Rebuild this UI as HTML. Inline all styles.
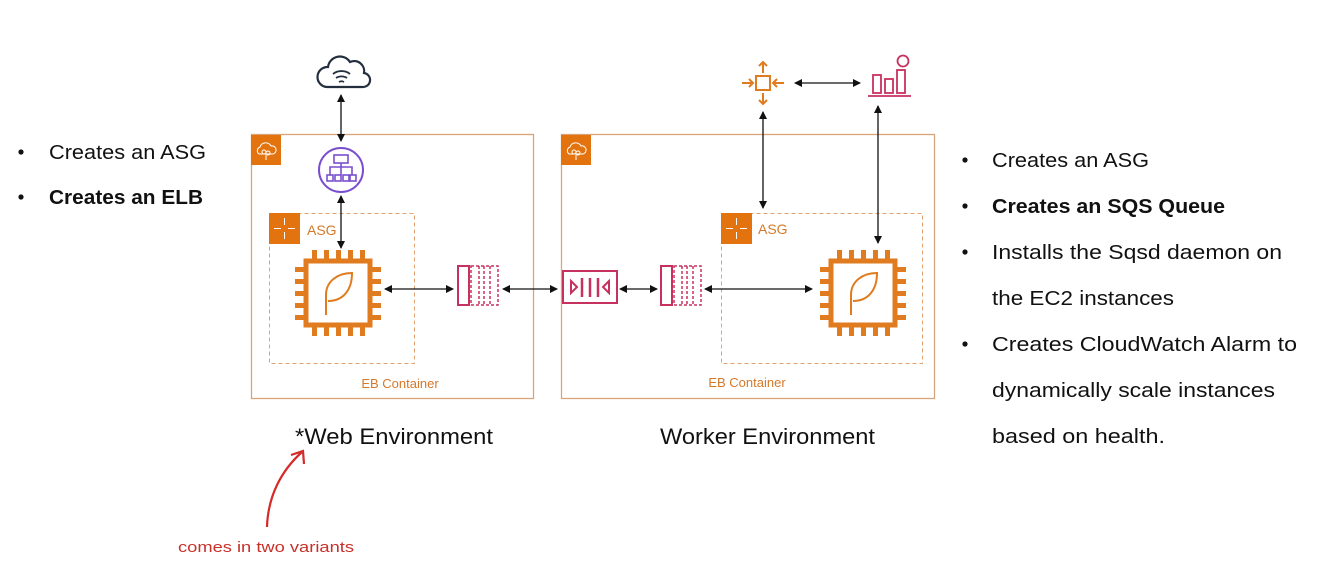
<!DOCTYPE html>
<html><head><meta charset="utf-8"><style>
html,body{margin:0;padding:0;background:#fff;}
svg{display:block;}
text{font-family:"Liberation Sans",sans-serif;}
</style></head><body>
<svg width="1323" height="577" viewBox="0 0 1323 577" xmlns="http://www.w3.org/2000/svg">
<defs>
<marker id="ah" markerWidth="8" markerHeight="8" refX="7" refY="4" orient="auto-start-reverse" markerUnits="userSpaceOnUse">
<path d="M0,0 L8,4 L0,8 z" fill="#111"/></marker>
<g id="chip">
<rect x="2" y="2" width="64" height="64" fill="#fff" stroke="#e07b1f" stroke-width="5"/>
<g fill="#e07b1f">
<rect x="8" y="-9" width="5" height="9"/><rect x="20" y="-9" width="5" height="9"/><rect x="32" y="-9" width="5" height="9"/><rect x="44" y="-9" width="5" height="9"/><rect x="56" y="-9" width="5" height="9"/>
<rect x="8" y="68" width="5" height="9"/><rect x="20" y="68" width="5" height="9"/><rect x="32" y="68" width="5" height="9"/><rect x="44" y="68" width="5" height="9"/><rect x="56" y="68" width="5" height="9"/>
<rect x="-9" y="8" width="9" height="5"/><rect x="-9" y="20" width="9" height="5"/><rect x="-9" y="32" width="9" height="5"/><rect x="-9" y="44" width="9" height="5"/><rect x="-9" y="56" width="9" height="5"/>
<rect x="68" y="8" width="9" height="5"/><rect x="68" y="20" width="9" height="5"/><rect x="68" y="32" width="9" height="5"/><rect x="68" y="44" width="9" height="5"/><rect x="68" y="56" width="9" height="5"/>
</g>
<path d="M22,56 L22,36 C22,22 34,14 48,14 C48,30 40,42 24,42" fill="none" stroke="#e07b1f" stroke-width="2"/>
</g>
<g id="ebicon">
<rect width="30" height="30" fill="#e3730f"/>
<path d="M8,19 a4,4 0 0 1 1,-7 a6,6 0 0 1 11,-1 a4,4 0 0 1 2,8 z" fill="none" stroke="#fff" stroke-width="1"/>
<circle cx="13" cy="17" r="2" fill="none" stroke="#fff" stroke-width="1"/><circle cx="17" cy="18" r="2" fill="none" stroke="#fff" stroke-width="1"/>
<line x1="15" y1="20" x2="15" y2="25" stroke="#fff" stroke-width="1"/>
</g>
<g id="asgicon">
<rect width="31" height="31" fill="#e3730f"/>
<g stroke="#fff" stroke-width="1" fill="none">
<line x1="15.5" y1="5" x2="15.5" y2="12"/><line x1="15.5" y1="19" x2="15.5" y2="26"/>
<line x1="5" y1="15.5" x2="12" y2="15.5"/><line x1="19" y1="15.5" x2="26" y2="15.5"/>
</g>
</g>
<g id="msg">
<rect x="1" y="1" width="11" height="39" fill="#fff" stroke="#c7315f" stroke-width="2"/>
<rect x="14" y="1" width="27" height="39" fill="none" stroke="#c7315f" stroke-width="1.5" stroke-dasharray="3,2"/>
<line x1="22" y1="1" x2="22" y2="40" stroke="#c7315f" stroke-width="1.5" stroke-dasharray="3,2"/>
<line x1="27" y1="1" x2="27" y2="40" stroke="#c7315f" stroke-width="1.5" stroke-dasharray="3,2"/>
<line x1="33" y1="1" x2="33" y2="40" stroke="#c7315f" stroke-width="1.5" stroke-dasharray="3,2"/>
</g>
</defs>

<!-- Left bullets -->
<g font-size="20" fill="#111">
<circle cx="21" cy="152" r="2.6"/><text x="49" y="159" textLength="157" lengthAdjust="spacingAndGlyphs">Creates an ASG</text>
<circle cx="21" cy="197" r="2.6"/><text x="49" y="204" font-weight="bold" textLength="154" lengthAdjust="spacingAndGlyphs">Creates an ELB</text>
</g>

<!-- Web env box -->
<rect x="251.5" y="134.5" width="282" height="264" fill="none" stroke="#d9a47a" stroke-width="1.3"/>
<use href="#ebicon" x="251" y="135"/>
<rect x="269.5" y="213.5" width="145" height="150" fill="none" stroke="#e0a070" stroke-width="1" stroke-dasharray="4,3"/>
<use href="#asgicon" x="269" y="213"/>
<text x="307" y="235" font-size="14" fill="#d4792a">ASG</text>
<text x="400" y="388" font-size="13" fill="#d4792a" text-anchor="middle">EB Container</text>

<!-- cloud internet -->
<path d="M327,87 L362,87 a7,7 0 0 0 2,-14 a10,10 0 0 0 -14,-11 a12,12 0 0 0 -22,5 a10,10 0 0 0 -1,20 z" fill="none" stroke="#232f3e" stroke-width="2.2"/>
<path d="M333,74 a12,10 0 0 1 17,0 M336,78 a8,6 0 0 1 11,0 M339,82 a4,3 0 0 1 5,0" fill="none" stroke="#232f3e" stroke-width="1.8"/>
<line x1="341" y1="95" x2="341" y2="141" stroke="#111" stroke-width="1.3" marker-start="url(#ah)" marker-end="url(#ah)"/>
<!-- ELB -->
<circle cx="341" cy="170" r="22" fill="#fff" stroke="#7a4fcf" stroke-width="2"/>
<g fill="none" stroke="#7a4fcf" stroke-width="1.6">
<rect x="334" y="155" width="14" height="8"/>
<path d="M341,163 V167 M330,170 V167 H352 V170 M341,167 V170"/>
<rect x="327" y="175" width="6" height="6"/><rect x="335" y="175" width="6" height="6"/><rect x="343" y="175" width="6" height="6"/><rect x="350" y="175" width="6" height="6"/>
<path d="M330,170 V175 M341,170 V175 M352,170 V175"/>
</g>
<line x1="341" y1="196" x2="341" y2="248" stroke="#111" stroke-width="1.3" marker-start="url(#ah)" marker-end="url(#ah)"/>

<use href="#chip" x="304" y="259"/>
<line x1="385" y1="289" x2="453" y2="289" stroke="#111" stroke-width="1.3" marker-start="url(#ah)" marker-end="url(#ah)"/>
<use href="#msg" x="457" y="265"/>
<line x1="503" y1="289" x2="557" y2="289" stroke="#111" stroke-width="1.3" marker-start="url(#ah)" marker-end="url(#ah)"/>

<!-- Worker box -->
<rect x="561.5" y="134.5" width="373" height="264" fill="none" stroke="#d9a47a" stroke-width="1.3"/>
<use href="#ebicon" x="561" y="135"/>
<rect x="721.5" y="213.5" width="201" height="150" fill="none" stroke="#e0a070" stroke-width="1" stroke-dasharray="4,3"/>
<use href="#asgicon" x="721" y="213"/>
<text x="758" y="234" font-size="14" fill="#d4792a">ASG</text>
<text x="747" y="387" font-size="13" fill="#d4792a" text-anchor="middle">EB Container</text>

<!-- SQS queue -->
<rect x="563" y="271" width="54" height="32" fill="#fff" stroke="#c7315f" stroke-width="2"/>
<path d="M571,281 L577,287 L571,293 z M609,281 L603,287 L609,293 z" fill="none" stroke="#c7315f" stroke-width="2"/>
<g stroke="#c7315f" stroke-width="2.5"><line x1="582" y1="278" x2="582" y2="297"/><line x1="590" y1="278" x2="590" y2="297"/><line x1="598" y1="278" x2="598" y2="297"/></g>
<line x1="620" y1="289" x2="657" y2="289" stroke="#111" stroke-width="1.3" marker-start="url(#ah)" marker-end="url(#ah)"/>
<use href="#msg" x="660" y="265"/>
<line x1="705" y1="289" x2="812" y2="289" stroke="#111" stroke-width="1.3" marker-start="url(#ah)" marker-end="url(#ah)"/>
<use href="#chip" x="829" y="259"/>

<!-- autoscaling icon -->
<g stroke="#e07b1f" stroke-width="2" fill="none">
<rect x="756" y="76" width="14" height="14"/>
<path d="M763,62 V73 M759,66 L763,62 L767,66 M763,93 V104 M759,100 L763,104 L767,100 M742,83 H753 M749,79 L753,83 L749,87 M784,83 H773 M777,79 L773,83 L777,87"/>
</g>
<line x1="795" y1="83" x2="860" y2="83" stroke="#111" stroke-width="1.3" marker-start="url(#ah)" marker-end="url(#ah)"/>
<!-- cloudwatch alarm -->
<g stroke="#c7315f" stroke-width="1.8" fill="none">
<rect x="873" y="75" width="8" height="18"/><rect x="885" y="79" width="8" height="14"/><rect x="897" y="70" width="8" height="23"/>
<circle cx="903" cy="61" r="5.5"/>
<line x1="868" y1="96" x2="911" y2="96"/>
</g>
<line x1="763" y1="112" x2="763" y2="208" stroke="#111" stroke-width="1.3" marker-start="url(#ah)" marker-end="url(#ah)"/>
<line x1="878" y1="106" x2="878" y2="243" stroke="#111" stroke-width="1.3" marker-start="url(#ah)" marker-end="url(#ah)"/>

<!-- env labels -->
<text x="295" y="444" font-size="22" fill="#111" textLength="198" lengthAdjust="spacingAndGlyphs">*Web Environment</text>
<text x="660" y="444" font-size="22" fill="#111" textLength="215" lengthAdjust="spacingAndGlyphs">Worker Environment</text>

<!-- red annotation -->
<path d="M267,527 C268,495 282,470 302,452" fill="none" stroke="#d42a2a" stroke-width="2.2"/>
<path d="M291,455 L303,451 L304,464" fill="none" stroke="#d42a2a" stroke-width="2.2"/>
<text x="178" y="552" font-size="15" fill="#c8312a" textLength="176" lengthAdjust="spacingAndGlyphs">comes in two variants</text>

<!-- Right bullets -->
<g font-size="20" fill="#111">
<circle cx="965" cy="160" r="2.6"/><text x="992" y="167" textLength="157" lengthAdjust="spacingAndGlyphs">Creates an ASG</text>
<circle cx="965" cy="206" r="2.6"/><text x="992" y="213" font-weight="bold" textLength="233" lengthAdjust="spacingAndGlyphs">Creates an SQS Queue</text>
<circle cx="965" cy="252" r="2.6"/><text x="992" y="259" textLength="290" lengthAdjust="spacingAndGlyphs">Installs the Sqsd daemon on</text>
<text x="992" y="305" textLength="182" lengthAdjust="spacingAndGlyphs">the EC2 instances</text>
<circle cx="965" cy="344" r="2.6"/><text x="992" y="351" textLength="305" lengthAdjust="spacingAndGlyphs">Creates CloudWatch Alarm to</text>
<text x="992" y="397" textLength="283" lengthAdjust="spacingAndGlyphs">dynamically scale instances</text>
<text x="992" y="443" textLength="173" lengthAdjust="spacingAndGlyphs">based on health.</text>
</g>
</svg>
</body></html>
